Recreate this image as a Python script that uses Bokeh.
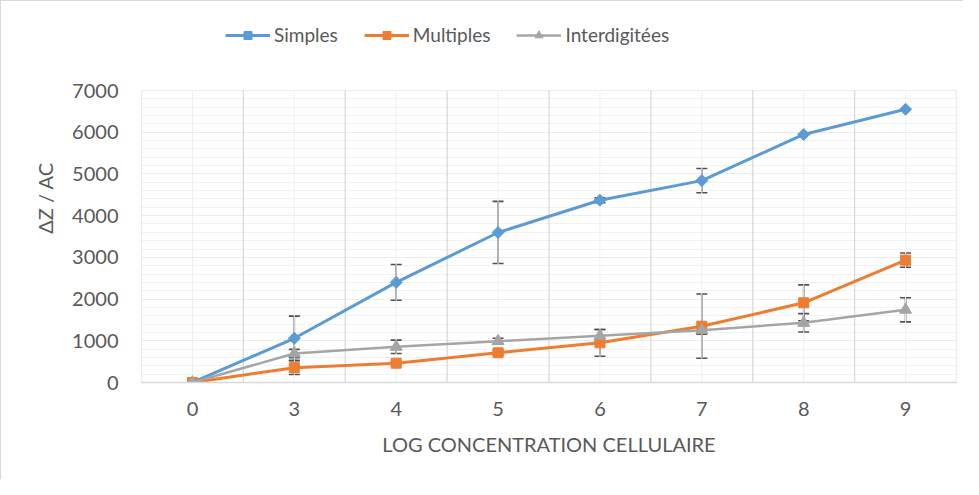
import math
from bokeh.plotting import figure
from bokeh.models import (ColumnDataSource, Whisker, TeeHead, FixedTicker, Legend, LegendItem, Range1d)
from bokeh.embed import file_html
from bokeh.resources import INLINE

# ---- data ----
categories = ["0", "3", "4", "5", "6", "7", "8", "9"]
simples = [0, 1060, 2400, 3596, 4370, 4840, 5946, 6550]
simples_err = [0, 530, 430, 745, 60, 290, 0, 0]
multiples = [0, 355, 463, 712, 951, 1350, 1910, 2933]
multiples_err = [0, 165, 40, 60, 320, 770, 430, 170]
interdig = [0, 695, 855, 991, 1119, 1255, 1430, 1743]
interdig_err = [0, 100, 160, 70, 150, 100, 220, 290]
y_ticks = [0, 1000, 2000, 3000, 4000, 5000, 6000, 7000]
y_max = 7000

FONT = "Lato"
TXT = "#595959"

# layout (pixels)
W, H = 963, 479
B_LEFT, B_RIGHT, B_TOP, B_BOTTOM = 140, 8, 12, 98
PLOT_H = 292  # pixel height of the 0..7000 plot area
frame_h = H - B_TOP - B_BOTTOM
y_end = y_max * frame_h / PLOT_H  # extra headroom holds the legend

xs = list(range(len(categories)))

p = figure(width=W, height=H, output_backend="svg", toolbar_location=None,
           x_range=Range1d(-0.5, len(categories) - 0.5), y_range=Range1d(0, y_end),
           min_border_left=B_LEFT, min_border_right=B_RIGHT,
           min_border_top=B_TOP, min_border_bottom=B_BOTTOM)
p.outline_line_color = None
p.background_fill_color = "white"
p.border_fill_color = "white"
p.styles = {"border-left": "1px solid #d9d9d9", "border-top": "1px solid #d9d9d9"}

# vertical grid lines limited to plot area (0..7000)
p.xgrid.grid_line_color = None
minor_x = xs
major_x = [i - 0.5 for i in range(len(categories) + 1)]
p.segment(x0=minor_x, y0=[0] * len(minor_x), x1=minor_x, y1=[y_max] * len(minor_x),
          line_color="#efefef", line_width=1)
p.segment(x0=major_x, y0=[0] * len(major_x), x1=major_x, y1=[y_max] * len(major_x),
          line_color="#d9d9d9", line_width=1.3)

p.ygrid.ticker = FixedTicker(ticks=y_ticks, minor_ticks=list(range(0, y_max + 1, 200)))
p.ygrid.grid_line_color = "#ececec"
p.ygrid.minor_grid_line_color = "#f2f2f2"

# axes
p.xaxis.ticker = FixedTicker(ticks=xs)
p.xaxis.major_label_overrides = {i: c for i, c in enumerate(categories)}
p.yaxis.ticker = FixedTicker(ticks=y_ticks)
for ax in (p.xaxis[0], p.yaxis[0]):
    ax.major_tick_line_color = None
    ax.minor_tick_line_color = None
    ax.major_label_text_font = FONT
    ax.major_label_text_color = TXT
    ax.major_label_text_font_size = "20px"
    ax.axis_label_text_font = FONT
    ax.axis_label_text_color = TXT
    ax.axis_label_text_font_size = "20px"
    ax.axis_label_text_font_style = "normal"
p.xaxis.axis_line_color = "#d9d9d9"
p.xaxis.axis_line_width = 1.5
p.yaxis.axis_line_color = None
p.xaxis.axis_label = "LOG CONCENTRATION CELLULAIRE"
p.yaxis.axis_label = "ΔZ / AC"
p.xaxis.major_label_standoff = 13
p.xaxis.axis_label_standoff = 13
p.yaxis.major_label_standoff = 17
p.yaxis.axis_label_standoff = 12

src = ColumnDataSource(dict(x=xs, s=simples, se=simples_err, m=multiples, me=multiples_err,
                            i=interdig, ie=interdig_err))
for col, ecol in (("s", "se"), ("m", "me"), ("i", "ie")):
    src.data[col + "_lo"] = [v - e for v, e in zip(src.data[col], src.data[ecol])]
    src.data[col + "_hi"] = [v + e for v, e in zip(src.data[col], src.data[ecol])]

series = [
    ("Simples", "s", "#5B9BD5", "square", 8.5, math.pi / 4, 3),
    ("Multiples", "m", "#ED7D31", "square", 10, 0, 3),
    ("Interdigitées", "i", "#A5A5A5", "triangle", 12, 0, 2.5),
]
items = []
for name, col, color, marker, size, angle, lw in series:
    l = p.line("x", col, source=src, color=color, line_width=lw)
    w = Whisker(base="x", lower=col + "_lo", upper=col + "_hi", source=src,
                line_color="#505050", line_width=1.6,
                upper_head=TeeHead(size=11, line_color="#505050", line_width=1.6),
                lower_head=TeeHead(size=11, line_color="#505050", line_width=1.6))
    p.add_layout(w)
    sc = p.scatter("x", col, source=src, marker=marker, size=size, angle=angle, color=color)
    items.append(LegendItem(label=name, renderers=[l, sc]))

legend = Legend(items=items, orientation="horizontal", location=(84, frame_h - 33))
legend.label_text_font = FONT
legend.label_text_font_size = "19px"
legend.label_text_color = TXT
legend.glyph_width = 45
legend.glyph_height = 20
legend.label_height = 20
legend.label_standoff = 4
legend.spacing = 26
legend.border_line_color = None
legend.background_fill_alpha = 0
legend.margin = 0
legend.padding = 0
p.add_layout(legend, "center")

open("out.html", "w").write(file_html(p, INLINE))
